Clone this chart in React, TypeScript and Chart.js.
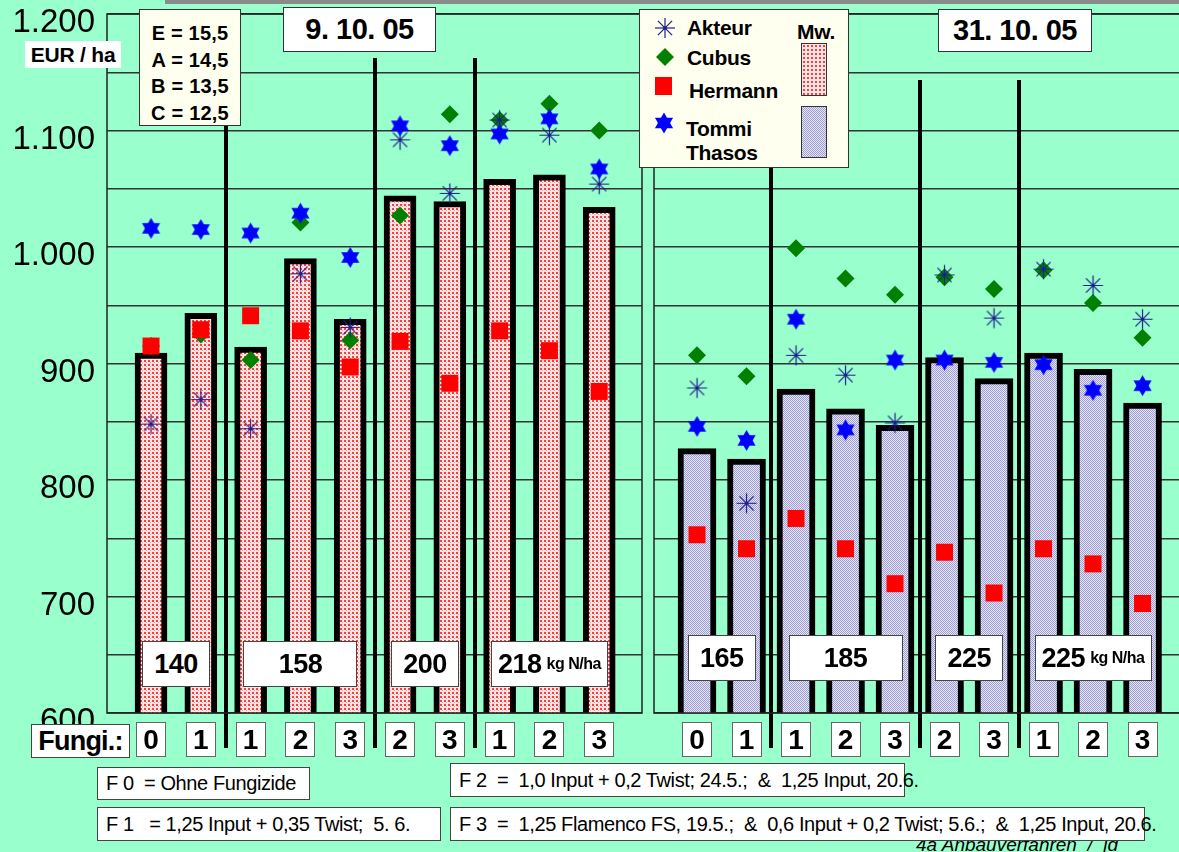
import React, { useEffect, useRef } from 'react';
import { Chart, registerables } from 'chart.js';

Chart.register(...registerables);

// ---------------- data ----------------
const groupSizes = [2, 3, 2, 3];
const nLevelsLeft = ['140', '158', '200', '218'];
const nLevelsRight = ['165', '185', '225', '225'];
const nUnit = 'kg N/ha';
const fungiLeft = ['0', '1', '1', '2', '3', '2', '3', '1', '2', '3'];
const fungiRight = ['0', '1', '1', '2', '3', '2', '3', '1', '2', '3'];
const dateLeft = '9. 10. 05';
const dateRight = '31. 10. 05';

const meanLeft = [909, 943, 914, 990, 938, 1044, 1039, 1058, 1062, 1034];
const akteurLeft = [848, 869, 844, 977, 931, 1092, 1046, 1109, 1096, 1054];
const cubusLeft = [915, 925, 903, 1021, 920, 1027, 1114, 1109, 1123, 1100];
const hermannLeft = [915, 929, 941, 928, 897, 919, 883, 928, 911, 876];
const tommiLeft = [1016, 1015, 1012, 1029, 991, 1104, 1087, 1097, 1110, 1067];

const meanRight = [827, 818, 878, 861, 847, 905, 887, 909, 895, 866];
const akteurRight = [879, 780, 907, 890, 849, 976, 939, 981, 967, 938];
const cubusRight = [907, 889, 999, 973, 959, 974, 964, 980, 952, 922];
const hermannRight = [753, 741, 767, 741, 711, 738, 703, 741, 728, 694];
const tommiRight = [846, 834, 938, 843, 903, 903, 901, 899, 877, 881];

const yTickValues = [600, 700, 800, 900, 1000, 1100, 1200];
const yTickLabels = ['600', '700', '800', '900', '1.000', '1.100', '1.200'];
const yMin = 600;
const yMax = 1200;
const yStep = 50;

const yUnit = 'EUR / ha';
const varietyNotes = ['E = 15,5', 'A = 14,5', 'B = 13,5', 'C = 12,5'];
const legendMean = 'Mw.';
const fungiTitle = 'Fungi.:';
const footF0 = 'F 0  = Ohne Fungizide';
const footF1 = 'F 1   = 1,25 Input + 0,35 Twist;  5. 6.';
const footF2 = 'F 2  =  1,0 Input + 0,2 Twist; 24.5.;  &  1,25 Input, 20.6.';
const footF3 = 'F 3  =  1,25 Flamenco FS, 19.5.;  &  0,6 Input + 0,2 Twist; 5.6.;  &  1,25 Input, 20.6.';
const sourceNote = '4a Anbauverfahren  /  jd';

// ---------------- layout / style ----------------
const FONT = "'Liberation Sans', Arial, Helvetica, sans-serif";
const BG = '#99FFCC';
const CANVAS_H = 760;
const PLOT_TOP = 14;
const PLOT_BOTTOM = 713;
const SEP_BOTTOM = 748;

const LEFT = { canvasX: 0, canvasW: 650, padL: 0, padR: 8, axisW: 107, xMin: 0.116, xMax: 10.859, barW: 32, sepTop: 58, nTop: 641 };
const RIGHT = { canvasX: 650, canvasW: 545, padL: 4, padR: 0, axisW: 0, xMin: 0.131, xMax: 11.06, barW: 38, sepTop: 80, nTop: 635 };

function pxOf(g: any, v: number) {
  const L = g.canvasX + g.padL + g.axisW;
  const R = g.canvasX + g.canvasW - g.padR;
  return L + ((v - g.xMin) / (g.xMax - g.xMin)) * (R - L);
}

function groupRanges() {
  const out: number[][] = [];
  let s = 1;
  groupSizes.forEach((n) => {
    out.push([s, s + n - 1]);
    s += n;
  });
  return out;
}

function makePattern(ctx: CanvasRenderingContext2D, kind: string) {
  const c = document.createElement('canvas');
  const x = c.getContext('2d')!;
  if (kind === 'pink') {
    c.width = 4; c.height = 4;
    x.fillStyle = '#ffe6e6'; x.fillRect(0, 0, 4, 4);
    x.fillStyle = '#ff3c3c'; x.fillRect(0, 0, 2, 2);
    x.fillStyle = '#ff9a9a'; x.fillRect(2, 2, 1, 1);
  } else {
    c.width = 2; c.height = 2;
    x.fillStyle = '#e4e4f4'; x.fillRect(0, 0, 2, 2);
    x.fillStyle = '#9e9ed2'; x.fillRect(0, 0, 1, 1); x.fillRect(1, 1, 1, 1);
  }
  return ctx.createPattern(c, 'repeat');
}

function makeHexagram(r: number, color: string) {
  const s = Math.ceil(r * 2 + 2);
  const c = document.createElement('canvas');
  c.width = s; c.height = s;
  const x = c.getContext('2d')!;
  x.fillStyle = color;
  const cx = s / 2, cy = s / 2;
  [-Math.PI / 2, Math.PI / 2].forEach((off) => {
    x.beginPath();
    for (let k = 0; k < 3; k++) {
      const a = off + (k * 2 * Math.PI) / 3;
      const px = cx + r * Math.cos(a), py = cy + r * Math.sin(a);
      if (k === 0) x.moveTo(px, py); else x.lineTo(px, py);
    }
    x.closePath();
    x.fill();
  });
  return c;
}

function makeAsterisk(r: number, color: string) {
  const s = Math.ceil(r * 2 + 3);
  const c = document.createElement('canvas');
  c.width = s; c.height = s;
  const x = c.getContext('2d')!;
  const cx = s / 2, cy = s / 2;
  x.strokeStyle = color;
  x.lineWidth = 1.2;
  x.beginPath();
  for (let k = 0; k < 4; k++) {
    const a = (k * Math.PI) / 4;
    x.moveTo(cx - r * Math.cos(a), cy - r * Math.sin(a));
    x.lineTo(cx + r * Math.cos(a), cy + r * Math.sin(a));
  }
  x.stroke();
  x.fillStyle = color;
  x.beginPath();
  x.arc(cx, cy, 1.8, 0, Math.PI * 2);
  x.fill();
  return c;
}

function Panel(props: any) {
  const { g, means, akteur, cubus, hermann, tommi, fill, showY } = props;
  const ref = useRef<HTMLCanvasElement>(null);
  useEffect(() => {
    const canvas = ref.current!;
    const ctx = canvas.getContext('2d')!;
    const toXY = (arr: number[]) => arr.map((v, i) => ({ x: i + 1, y: v }));
    const breaks: number[] = [];
    let acc = 0;
    groupSizes.slice(0, -1).forEach((n) => { acc += n; breaks.push(acc + 0.5); });

    const sepPlugin = {
      id: 'separators',
      afterDatasetsDraw(chart: any) {
        const c = chart.ctx;
        const xs = chart.scales.x;
        c.save();
        c.fillStyle = '#000';
        breaks.forEach((b) => {
          const p = Math.round(xs.getPixelForValue(b));
          c.fillRect(p - 2, g.sepTop, 4, SEP_BOTTOM - g.sepTop);
        });
        c.restore();
      },
    };
    const framePlugin = {
      id: 'frame',
      afterDraw(chart: any) {
        const c = chart.ctx;
        const { left, top, right, bottom } = chart.chartArea;
        c.save();
        c.strokeStyle = '#222';
        c.lineWidth = 1.5;
        c.strokeRect(left, top, right - left, bottom - top);
        c.restore();
      },
    };

    const chart = new Chart(ctx, {
      type: 'scatter',
      data: {
        datasets: [
          {
            type: 'bar', label: legendMean, data: toXY(means),
            backgroundColor: makePattern(ctx, fill), borderColor: '#000', borderWidth: 6,
            borderSkipped: false, barThickness: g.barW, order: 5,
          } as any,
          {
            type: 'scatter', label: 'Cubus', data: toXY(cubus), pointStyle: 'rectRot', pointRadius: 9,
            backgroundColor: '#008000', borderColor: '#008000', borderWidth: 0, order: 4,
          },
          {
            type: 'scatter', label: 'Hermann', data: toXY(hermann), pointStyle: 'rect', pointRadius: 12,
            backgroundColor: '#ff0000', borderColor: '#ff0000', borderWidth: 0, order: 3,
          },
          {
            type: 'scatter', label: 'Akteur', data: toXY(akteur), pointStyle: makeAsterisk(10, '#1e1e8c'),
            pointRadius: 10, order: 2,
          },
          {
            type: 'scatter', label: 'Tommi Thasos', data: toXY(tommi), pointStyle: makeHexagram(10.5, '#0000ff'),
            pointRadius: 10, order: 1,
          },
        ],
      },
      options: {
        responsive: false,
        animation: false,
        events: [],
        layout: { autoPadding: false, padding: { left: g.padL, right: g.padR, top: PLOT_TOP, bottom: CANVAS_H - PLOT_BOTTOM } },
        plugins: { legend: { display: false }, tooltip: { enabled: false } },
        scales: {
          x: { type: 'linear', min: g.xMin, max: g.xMax, offset: false, bounds: 'ticks', display: false },
          y: {
            type: 'linear', min: yMin, max: yMax,
            afterFit: (s: any) => { s.width = g.axisW; s.paddingTop = 0; s.paddingBottom = 0; },
            border: { display: false },
            grid: { color: '#333', lineWidth: 1.5, drawTicks: false },
            ticks: {
              display: showY, stepSize: yStep, padding: 12, labelOffset: 9, color: '#000',
              font: { family: FONT, size: 33, weight: 'normal' },
              callback: (v: any) => {
                const i = yTickValues.indexOf(Number(v));
                return i >= 0 ? yTickLabels[i] : '';
              },
            },
          },
        },
      } as any,
      plugins: [sepPlugin, framePlugin],
    });
    return () => chart.destroy();
  }, []);
  return (
    <canvas
      ref={ref}
      width={g.canvasW}
      height={CANVAS_H}
      style={{ position: 'absolute', left: g.canvasX, top: 0, width: g.canvasW, height: CANVAS_H }}
    />
  );
}

const boxBase: any = {
  position: 'absolute', background: '#fff', border: '1px solid #444', boxSizing: 'border-box',
  display: 'flex', alignItems: 'center', justifyContent: 'center', fontFamily: FONT, color: '#000',
  whiteSpace: 'pre',
};

function NBoxes({ g, labels }: any) {
  const ranges = groupRanges();
  return (
    <>
      {ranges.map(([a, b], gi) => {
        const c = pxOf(g, (a + b) / 2);
        const last = gi === ranges.length - 1;
        const w = last ? 117 : b - a + 1 === 2 ? 68 : 114;
        return (
          <div key={gi} style={{ ...boxBase, left: c - w / 2, top: g.nTop, width: w, height: 46, fontSize: 27, fontWeight: 'bold', letterSpacing: -0.5 }}>
            {labels[gi]}
            {last && <span style={{ fontSize: 16, marginLeft: 5, letterSpacing: -0.5 }}>{nUnit}</span>}
          </div>
        );
      })}
    </>
  );
}

function FungiBoxes({ g, labels }: any) {
  return (
    <>
      {labels.map((f: string, i: number) => {
        const c = pxOf(g, i + 1);
        return (
          <div key={i} style={{ ...boxBase, left: c - 15, top: 722, width: 30, height: 35, fontSize: 28, fontWeight: 'bold', border: '1px solid #666' }}>
            {f}
          </div>
        );
      })}
    </>
  );
}

function hexPoints(cx: number, cy: number, r: number, off: number) {
  const pts: string[] = [];
  for (let k = 0; k < 3; k++) {
    const a = off + (k * 2 * Math.PI) / 3;
    pts.push(`${cx + r * Math.cos(a)},${cy + r * Math.sin(a)}`);
  }
  return pts.join(' ');
}

function Legend() {
  const txt: any = { position: 'absolute', fontFamily: FONT, fontWeight: 'bold', fontSize: 21, lineHeight: '24px', whiteSpace: 'pre', letterSpacing: -0.3 };
  return (
    <div style={{ position: 'absolute', left: 639, top: 9, width: 210, height: 159, background: '#fffff0', border: '1px solid #333', boxSizing: 'border-box' }}>
      <svg style={{ position: 'absolute', left: 13, top: 6 }} width={24} height={24}>
        {[0, 1, 2, 3].map((k) => {
          const a = (k * Math.PI) / 4;
          return <line key={k} x1={12 - 10 * Math.cos(a)} y1={12 - 10 * Math.sin(a)} x2={12 + 10 * Math.cos(a)} y2={12 + 10 * Math.sin(a)} stroke="#1e1e8c" strokeWidth={1.2} />;
        })}
        <circle cx={12} cy={12} r={1.8} fill="#1e1e8c" />
      </svg>
      <div style={{ ...txt, left: 47, top: 6 }}>Akteur</div>
      <svg style={{ position: 'absolute', left: 15, top: 37 }} width={20} height={20}>
        <polygon points="10,1 19,10 10,19 1,10" fill="#008000" />
      </svg>
      <div style={{ ...txt, left: 47, top: 36 }}>Cubus</div>
      <div style={{ position: 'absolute', left: 15, top: 67, width: 17, height: 18, background: '#ff0000' }} />
      <div style={{ ...txt, left: 49, top: 69 }}>Hermann</div>
      <svg style={{ position: 'absolute', left: 13, top: 102 }} width={22} height={22}>
        <polygon points={hexPoints(11, 11, 10.5, -Math.PI / 2)} fill="#0000ff" />
        <polygon points={hexPoints(11, 11, 10.5, Math.PI / 2)} fill="#0000ff" />
      </svg>
      <div style={{ ...txt, left: 46, top: 107 }}>{'Tommi\nThasos'}</div>
      <div style={{ ...txt, left: 157, top: 10 }}>{legendMean}</div>
      <div style={{ position: 'absolute', left: 161, top: 33, width: 26, height: 53, border: '1px solid #333', boxSizing: 'border-box', backgroundColor: '#ffe6e6', backgroundImage: 'radial-gradient(#ff3c3c 1px, transparent 1.2px)', backgroundSize: '4px 4px' }} />
      <div style={{ position: 'absolute', left: 161, top: 96, width: 26, height: 52, border: '1px solid #333', boxSizing: 'border-box', background: 'repeating-conic-gradient(#9e9ed2 0 25%, #e4e4f4 0 50%) 0 0 / 2px 2px' }} />
    </div>
  );
}

export default function App() {
  const foot: any = { ...boxBase, justifyContent: 'flex-start', paddingLeft: 8, fontSize: 20, letterSpacing: -0.4, overflow: 'visible' };
  return (
    <div style={{ position: 'fixed', left: 0, top: 0, width: 1179, height: 852, overflow: 'hidden', background: BG, fontFamily: FONT }}>
      <div style={{ position: 'absolute', left: 165, top: 0, width: 1014, height: 4, background: '#8a8a8a' }} />
      <Panel g={LEFT} means={meanLeft} akteur={akteurLeft} cubus={cubusLeft} hermann={hermannLeft} tommi={tommiLeft} fill="pink" showY={true} />
      <Panel g={RIGHT} means={meanRight} akteur={akteurRight} cubus={cubusRight} hermann={hermannRight} tommi={tommiRight} fill="lav" showY={false} />

      <div style={{ ...boxBase, border: 'none', left: 25, top: 41, width: 96, height: 27, fontSize: 21, fontWeight: 'bold', letterSpacing: -0.2 }}>{yUnit}</div>

      <div style={{ position: 'absolute', left: 139, top: 9, width: 102, height: 117, background: '#fffff0', border: '1px solid #333', boxSizing: 'border-box', paddingTop: 10, fontFamily: FONT, fontWeight: 'bold', fontSize: 20, lineHeight: '26.5px', textAlign: 'center', letterSpacing: 0.2 }}>
        {varietyNotes.map((t, i) => (<div key={i} style={{ whiteSpace: 'pre' }}>{t}</div>))}
      </div>

      <div style={{ ...boxBase, left: 283, top: 7, width: 153, height: 45, border: '1.5px solid #333', fontSize: 29, fontWeight: 'bold', letterSpacing: -0.5 }}>{dateLeft}</div>
      <div style={{ ...boxBase, left: 938, top: 9, width: 154, height: 43, border: '1.5px solid #333', fontSize: 29, fontWeight: 'bold', letterSpacing: -0.5 }}>{dateRight}</div>

      <Legend />

      <NBoxes g={LEFT} labels={nLevelsLeft} />
      <NBoxes g={RIGHT} labels={nLevelsRight} />

      <div style={{ ...boxBase, left: 31, top: 724, width: 99, height: 34, fontSize: 27, fontWeight: 'bold', letterSpacing: -0.8 }}>{fungiTitle}</div>
      <FungiBoxes g={LEFT} labels={fungiLeft} />
      <FungiBoxes g={RIGHT} labels={fungiRight} />

      <div style={{ position: 'absolute', left: 916, top: 834, fontFamily: FONT, fontStyle: 'italic', fontSize: 19, whiteSpace: 'pre', color: '#000' }}>{sourceNote}</div>

      <div style={{ ...foot, left: 97, top: 767, width: 213, height: 33 }}>{footF0}</div>
      <div style={{ ...foot, left: 450, top: 763, width: 455, height: 34 }}>{footF2}</div>
      <div style={{ ...foot, left: 97, top: 807, width: 344, height: 34 }}>{footF1}</div>
      <div style={{ ...foot, left: 450, top: 807, width: 695, height: 34 }}>{footF3}</div>
    </div>
  );
}
